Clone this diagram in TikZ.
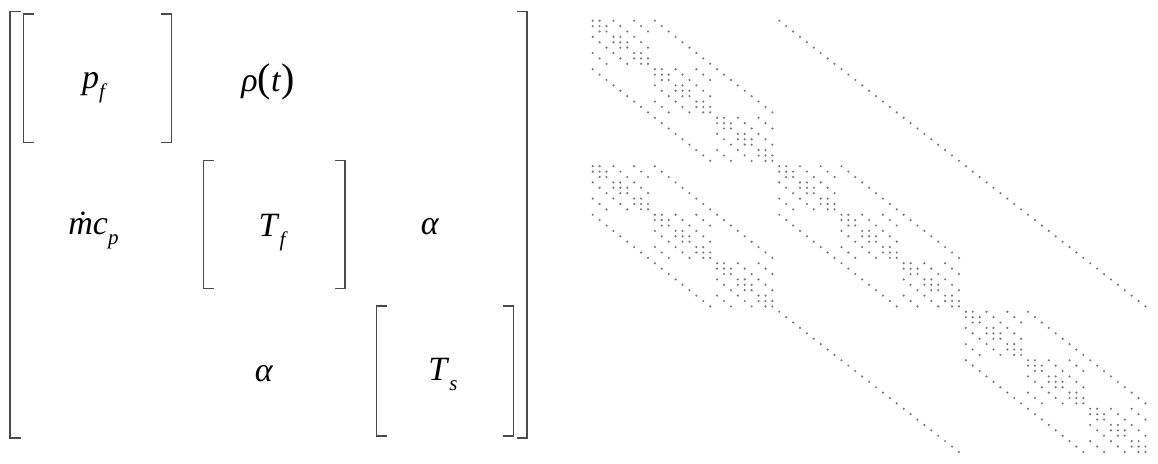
\documentclass[tikz,border=0pt]{standalone}
\usepackage{amsmath}
\usepackage{fontspec}
\setmainfont{Liberation Serif}
\usepackage{tikz}
\usetikzlibrary{positioning}
\definecolor{bracketgray}{HTML}{4A4A4A}
\definecolor{dotgray}{HTML}{767676}

% subscript and big parens for the block labels
\newcommand{\lblsub}[1]{\raisebox{-0.3em}{\fontsize{21}{21}\selectfont\itshape #1}}
\newcommand{\bigpar}[1]{{\fontsize{40}{40}\selectfont #1}}
% one nonzero of the sparse matrix, row #1, column #2
\newcommand{\spdot}[2]{\fill[dotgray] ({592.7+6.91*(#2)}, {20.7+5.39*(#1)}) circle (1.2pt);}
% 3x3x3 stencil block (periodic in the middle index)
\newcommand{\stencilblock}[2]{%
  \foreach \k in {0,1,2} {
    \foreach \j in {0,1,2} {
      \foreach \i in {0,1,2} {
        \pgfmathtruncatemacro{\n}{\i+3*\j+9*\k}
        \pgfmathtruncatemacro{\jup}{\i+3*mod(\j+1,3)+9*\k}
        \pgfmathtruncatemacro{\jdn}{\i+3*mod(\j+2,3)+9*\k}
        \spdot{#1+\n}{#2+\n}
        \spdot{#1+\n}{#2+\jup}
        \spdot{#1+\n}{#2+\jdn}
        \ifnum\i>0 \spdot{#1+\n}{#2+\n-1}\fi
        \ifnum\i<2 \spdot{#1+\n}{#2+\n+1}\fi
        \ifnum\k>0 \spdot{#1+\n}{#2+\n-9}\fi
        \ifnum\k<2 \spdot{#1+\n}{#2+\n+9}\fi
      }
    }
  }
}

\begin{document}
\begin{tikzpicture}[x=1pt, y=-1pt,
  lbl/.style={anchor=base, inner sep=0pt, font=\fontsize{34}{40}\selectfont},
  brk/.style={draw=bracketgray, line width=1.5pt}]
  \useasboundingbox[fill=white] (0,0) rectangle (1158,463);
  % block matrix
  \foreach \xa/\ya/\xb/\yb in {10/11.5/527/438, 23.3/14/171.5/142.7,
      203.3/160.7/345/288.3, 376.7/306/513.3/436} {
    \draw[brk] (\xa+10.5,\ya) -- (\xa,\ya) -- (\xa,\yb) -- (\xa+10.5,\yb);
    \draw[brk] (\xb-10.5,\ya) -- (\xb,\ya) -- (\xb,\yb) -- (\xb-10.5,\yb);
  }
  \node[lbl] (pf) at (93.5,88) {\textit{p}\lblsub{f}};
  \node[lbl] (rho) at (268,91) {\textit{ρ}\bigpar{(}\textit{t}\bigpar{)}};
  \node[lbl] (mcp) at (93.5,234) {\textit{\.{m}c}\lblsub{p}};
  \node[lbl] (tf) at (272,236) {\textit{T}\lblsub{f}};
  \node[lbl] (alphafs) at (430,234) {\textit{α}};
  \node[lbl] (alphasf) at (264,381) {\textit{α}};
  \node[lbl] (ts) at (443,380) {\textit{T}\lblsub{s}};
  % sparsity pattern
  \stencilblock{0}{0}
  \stencilblock{27}{27}
  \stencilblock{54}{54}
  \stencilblock{27}{0}
  \foreach \r in {0,...,53} {
    \spdot{\r}{\r+27}
  }
  \foreach \r in {54,...,80} {
    \spdot{\r}{\r-27}
  }
\end{tikzpicture}
\end{document}
